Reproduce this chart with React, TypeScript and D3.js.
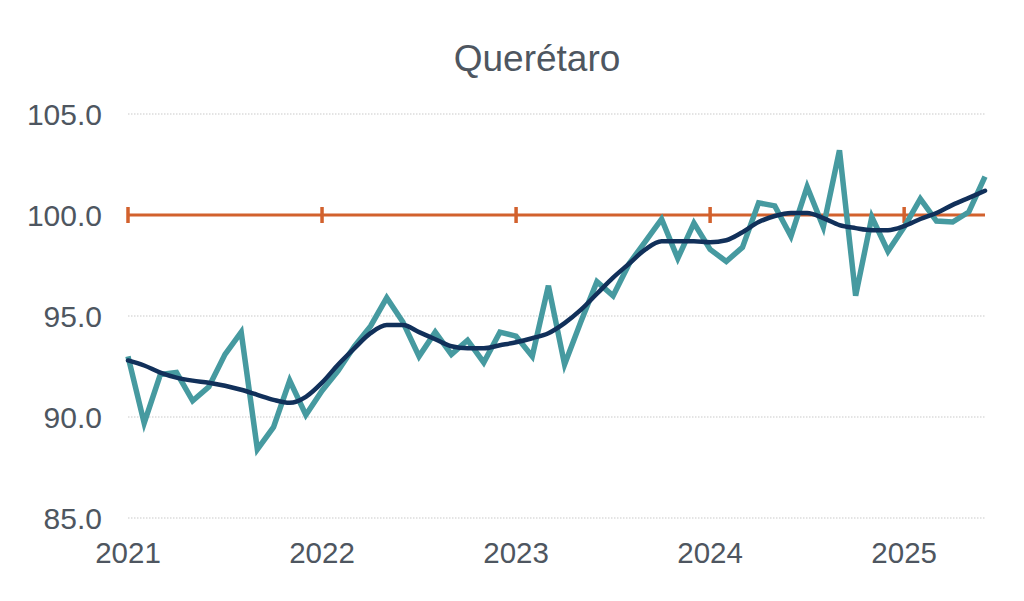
import React from 'react';
import * as d3 from 'd3';

// monthly index, Jan 2021 .. Jun 2025
const yearLabels = ['2021', '2022', '2023', '2024', '2025'];
const yTicks = [85, 90, 95, 100, 105];
const reference = 100;

const monthly = [
  93.0, 89.7, 92.1, 92.2, 90.8, 91.5, 93.1, 94.2, 88.4, 89.5, 91.8, 90.1,
  91.3, 92.3, 93.5, 94.5, 95.9, 94.7, 93.0, 94.2, 93.1, 93.8, 92.7, 94.2,
  94.0, 93.0, 96.5, 92.6, 94.7, 96.7, 96.0, 97.6, 98.7, 99.8, 97.85, 99.6,
  98.3, 97.7, 98.4, 100.6, 100.45, 98.95, 101.4, 99.4, 103.2, 96.0, 99.9, 98.2,
  99.4, 100.8, 99.7, 99.65, 100.15, 101.9,
];

const trend = [
  92.8, 92.55, 92.2, 91.95, 91.8, 91.7, 91.55, 91.35, 91.1, 90.85, 90.7, 91.0,
  91.7, 92.6, 93.4, 94.15, 94.55, 94.55, 94.2, 93.85, 93.5, 93.4, 93.4, 93.55,
  93.7, 93.9, 94.15, 94.65, 95.3, 96.1, 96.9, 97.6, 98.3, 98.7, 98.7, 98.7,
  98.65, 98.75, 99.15, 99.65, 99.95, 100.1, 100.1, 99.85, 99.5, 99.35, 99.25, 99.25,
  99.45, 99.8, 100.1, 100.5, 100.85, 101.2,
];

const width = 1024;
const height = 601;
const margin = { top: 114, right: 39, bottom: 83, left: 128 };
const textColor = '#4e5660';
const font = '"Liberation Sans", Arial, sans-serif';

export default function App() {
  const x = d3.scaleLinear()
    .domain([0, monthly.length - 1])
    .range([margin.left, width - margin.right]);

  const y = d3.scaleLinear()
    .domain([85, 105])
    .range([height - margin.bottom, margin.top]);

  const yearIdx = yearLabels.map((_, i) => i * 12);

  const rawLine = d3.line<number>()
    .x((_, i) => x(i))
    .y(d => y(d));

  const smoothLine = d3.line<number>()
    .x((_, i) => x(i))
    .y(d => y(d))
    .curve(d3.curveMonotoneX);

  const x0 = x(0);
  const x1 = x(monthly.length - 1);

  return (
    <svg width={width} height={height} style={{ position: 'absolute', left: 0, top: 0, background: '#fff' }}>
      <text x={537} y={71} textAnchor="middle" fontFamily={font} fontSize={37} fill={textColor}>
        Querétaro
      </text>

      {yTicks.map(t => (
        <g key={t}>
          <line x1={x0} x2={x1} y1={y(t)} y2={y(t)} stroke="#c9c9c9" strokeWidth={1} strokeDasharray="1.5,1.5" />
          <text x={102} y={y(t)} dy="0.36em" textAnchor="end" fontFamily={font} fontSize={30} fill={textColor}>
            {t.toFixed(1)}
          </text>
        </g>
      ))}

      {yearIdx.map((m, i) => (
        <text key={m} x={x(m)} y={563} textAnchor="middle" fontFamily={font} fontSize={29.5} fill={textColor}>
          {yearLabels[i]}
        </text>
      ))}

      <line x1={x0} x2={x1} y1={y(reference)} y2={y(reference)} stroke="#d2612d" strokeWidth={3} />
      {yearIdx.map(m => (
        <line key={m} x1={x(m)} x2={x(m)} y1={y(reference) - 8} y2={y(reference) + 8} stroke="#d2612d" strokeWidth={3.5} />
      ))}

      <path d={rawLine(monthly) ?? ''} fill="none" stroke="#469aa0" strokeWidth={5.5} strokeLinejoin="miter" />
      <path d={smoothLine(trend) ?? ''} fill="none" stroke="#11305a" strokeWidth={4.5} strokeLinecap="round" />
    </svg>
  );
}
